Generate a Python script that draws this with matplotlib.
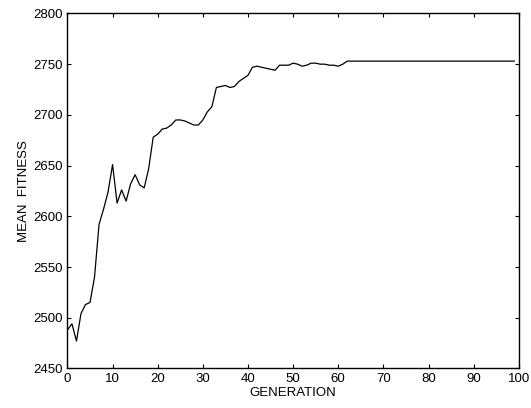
"""
Mean fitness per generation of the genetic algorithm run.
Writes out.png (531x408).
"""
import numpy as np
import matplotlib
matplotlib.use("Agg")
import matplotlib.pyplot as plt

plt.rcParams["font.family"] = ["Liberation Sans", "DejaVu Sans"]
plt.rcParams["font.size"] = 9.5

# -----------------------------
# Data
# -----------------------------
early_fitness = [
    2488, 2494, 2477, 2504, 2513, 2515, 2540, 2592, 2607, 2624,
    2651, 2613, 2626, 2615, 2632, 2641, 2631, 2628, 2647, 2678,
    2681, 2686, 2687, 2690, 2695, 2695, 2694, 2692, 2690, 2690,
    2695, 2703, 2708, 2727, 2728, 2729, 2727, 2728, 2733, 2736,
    2739, 2747, 2748, 2747, 2746, 2745, 2744, 2749, 2749, 2749,
    2751, 2750, 2748, 2749, 2751, 2751, 2750, 2750, 2749, 2749,
    2748, 2750, 2753,
]
plateau_fitness = 2753
n_generations = 100

mean_fitness = early_fitness + [plateau_fitness] * (n_generations - len(early_fitness))
generation = np.arange(n_generations)

# -----------------------------
# Plot
# -----------------------------
fig = plt.figure(figsize=(5.31, 4.08), dpi=100)
ax = fig.add_axes([0.127, 0.097, 0.850, 0.870])
ax.plot(generation, mean_fitness, color="black", linewidth=0.9)

ax.set_xlim(0, 100)
ax.set_ylim(2450, 2800)
ax.set_xticks(np.arange(0, 101, 10))
ax.set_yticks(np.arange(2450, 2801, 50))
ax.tick_params(direction="in", length=3, width=0.8, top=True, right=True,
               labelsize=9.5, pad=3, colors="black")
for sp in ax.spines.values():
    sp.set_linewidth(1.0)
    sp.set_color("black")

ax.set_xlabel("GENERATION", fontsize=9.5, labelpad=2)
ax.set_ylabel("MEAN  FITNESS", fontsize=9.5, labelpad=3)

fig.savefig("out.png", dpi=100)
plt.close(fig)
